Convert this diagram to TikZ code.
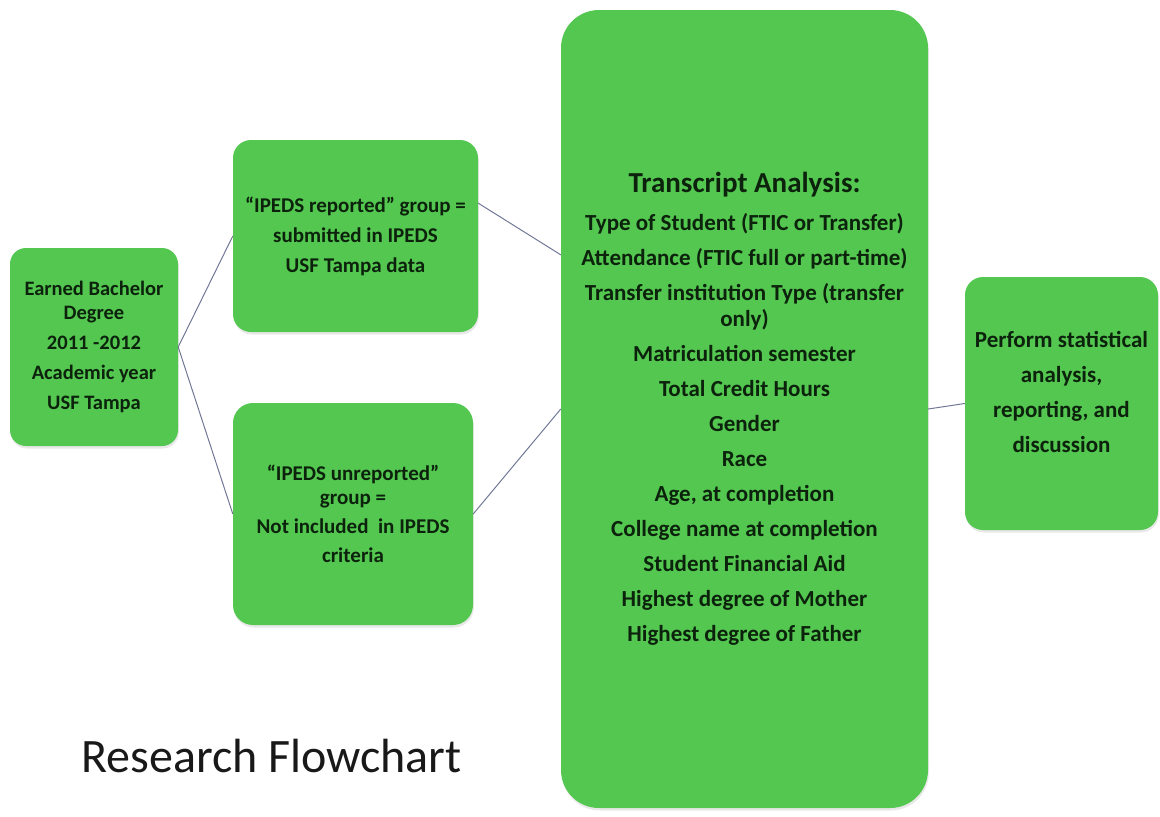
\documentclass[tikz,border=0pt]{standalone}
\usepackage{fontspec}
\setmainfont{Carlito}
\usetikzlibrary{shadows}
\definecolor{boxgreen}{RGB}{83,199,80}
\definecolor{boxtext}{RGB}{12,34,12}
\definecolor{linkgray}{RGB}{112,120,150}
\definecolor{titlegray}{RGB}{25,25,25}
\begin{document}
\begin{tikzpicture}[x=1pt,y=-1pt,
  greenbox/.style={fill=boxgreen, draw=none, rounded corners=#1, align=center,
    text=boxtext, inner sep=0pt,
    drop shadow={shadow xshift=0.8pt, shadow yshift=-2.5pt, opacity=0.18}},
  link/.style={draw=linkgray, line width=1pt}]
\useasboundingbox (0,0) rectangle (1160,817);

% boxes
\node[greenbox=16, minimum width=168, minimum height=198,
      font=\bfseries\fontsize{20.5}{24}\selectfont] (A) at (94,347)
  {Earned Bachelor\\Degree\\[6pt]2011 -2012\\[6pt]Academic year\\[6pt]USF Tampa};

\node[greenbox=18, minimum width=245, minimum height=192,
      font=\bfseries\fontsize{21}{24}\selectfont] (B) at (355.5,236)
  {“IPEDS reported” group =\\[6pt]submitted in IPEDS\\[6pt]USF Tampa data};

\node[greenbox=20, minimum width=240, minimum height=222,
      font=\bfseries\fontsize{21}{24}\selectfont] (C) at (353,514)
  {“IPEDS unreported”\\group =\\[5pt]Not included~ in IPEDS\\[5pt]criteria};

\node[greenbox=38, minimum width=367, minimum height=798,
      font=\bfseries\fontsize{23}{26}\selectfont] (D) at (744.5,409)
  {{\fontsize{29}{32}\selectfont Transcript Analysis:}\\[12pt]
   Type of Student (FTIC or Transfer)\\[9pt]
   Attendance (FTIC full or part-time)\\[9pt]
   Transfer institution Type (transfer\\
   only)\\[9pt]
   Matriculation semester\\[9pt]
   Total Credit Hours\\[9pt]
   Gender\\[9pt]
   Race\\[9pt]
   Age, at completion\\[9pt]
   College name at completion\\[9pt]
   Student Financial Aid\\[9pt]
   Highest degree of Mother\\[9pt]
   Highest degree of Father};

\node[greenbox=18, minimum width=193, minimum height=253,
      font=\bfseries\fontsize{23}{26}\selectfont] (E) at (1061.5,403.5)
  {\begin{tabular}{@{}c@{}}Perform statistical\\[9pt]analysis,\\[9pt]reporting, and\\[9pt]discussion\\[17pt]\end{tabular}};

% title
\node[anchor=base west, inner sep=0pt, text=titlegray,
      font=\fontsize{48}{56}\selectfont] (title) at (81,772) {Research Flowchart};

% connectors
\draw[link] (A.east) -- (B.west);
\draw[link] (A.east) -- (C.west);
\draw[link] (B.15) -- (D.140);
\draw[link] (C.east) -- (D.west);
\draw[link] (D.east) -- (E.west);
\end{tikzpicture}
\end{document}
